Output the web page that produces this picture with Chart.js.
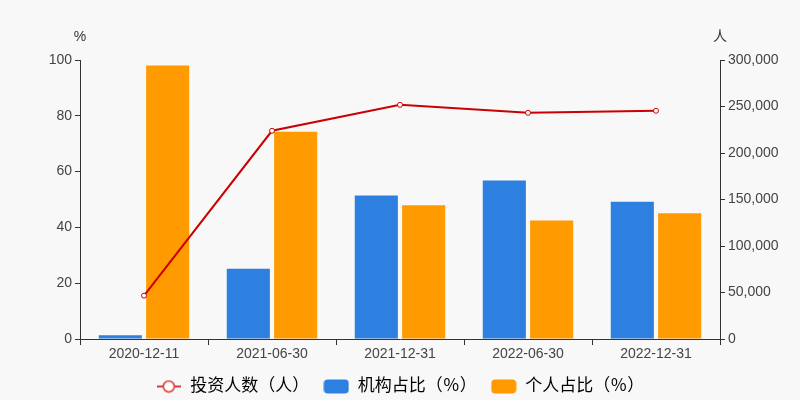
<!DOCTYPE html>
<html>
<head>
<meta charset="utf-8">
<script src="https://cdn.jsdelivr.net/npm/chart.js@4"></script>
<style>
  html, body { margin: 0; padding: 0; background: #f8f8f8; }
  #wrap { width: 800px; height: 400px; }
</style>
</head>
<body>
<div id="wrap"><canvas id="chart"></canvas></div>
<script>
const dates = ["2020-12-11", "2021-06-30", "2021-12-31", "2022-06-30", "2022-12-31"];
const investors = [46600, 223900, 251800, 243200, 245400];
const instShare = [1.3, 25.2, 51.4, 56.8, 49.2];
const personShare = [98.0, 74.3, 47.9, 42.5, 45.1];

const FONT = "Arial, 'Liberation Sans', 'Noto Sans CJK SC', sans-serif";
const RED = "#cc0000";
const BLUE = "#2e80e0";
const ORANGE = "#ff9a00";

// little legend icons
function lineIcon() {
  const c = document.createElement("canvas");
  c.width = 24; c.height = 14;
  const g = c.getContext("2d");
  g.strokeStyle = "#d83a3a";
  g.lineWidth = 2;
  g.beginPath(); g.moveTo(0, 7); g.lineTo(24, 7); g.stroke();
  g.fillStyle = "#fff";
  g.lineWidth = 1.5;
  g.beginPath(); g.arc(12, 7, 5.5, 0, Math.PI * 2); g.fill(); g.stroke();
  return c;
}
function boxIcon(color) {
  const c = document.createElement("canvas");
  c.width = 26; c.height = 15;
  const g = c.getContext("2d");
  g.fillStyle = color;
  g.beginPath(); g.roundRect(0.5, 0.5, 25, 14, 4); g.fill();
  return c;
}

// "%" and "人" above the two y axes
const axisTitles = {
  id: "axisTitles",
  afterDraw(chart) {
    const ctx = chart.ctx;
    const l = chart.scales.y, r = chart.scales.y1;
    ctx.save();
    ctx.fillStyle = "#333";
    ctx.font = "14px " + FONT;
    ctx.textAlign = "center";
    ctx.textBaseline = "middle";
    ctx.fillText("%", l.right, 37);
    ctx.fillText("人", r.left, 37);
    ctx.restore();
  }
};

// keep the legend box a fixed height so the item gap can stay wide
const legendHeight = {
  id: "legendHeight",
  afterInit(chart) {
    const lg = chart.legend;
    const fit = lg.fit;
    lg.fit = function () { fit.call(this); this.height = 36; };
  }
};

const tickFont = { size: 14, family: FONT };

new Chart(document.getElementById("chart"), {
  data: {
    labels: dates,
    datasets: [
      {
        type: "line",
        label: "投资人数（人）",
        data: investors,
        yAxisID: "y1",
        borderColor: RED,
        borderWidth: 2,
        pointRadius: 2.5,
        pointBackgroundColor: "#fff",
        pointBorderColor: RED,
        pointBorderWidth: 1,
        pointStyle: "circle",
        tension: 0,
        order: 0
      },
      {
        type: "bar",
        label: "机构占比（％）",
        data: instShare,
        yAxisID: "y",
        backgroundColor: BLUE,
        categoryPercentage: 0.74,
        barPercentage: 0.91,
        order: 1
      },
      {
        type: "bar",
        label: "个人占比（％）",
        data: personShare,
        yAxisID: "y",
        backgroundColor: ORANGE,
        categoryPercentage: 0.74,
        barPercentage: 0.91,
        order: 1
      }
    ]
  },
  options: {
    responsive: true,
    maintainAspectRatio: false,
    animation: false,
    layout: { padding: { top: 60, bottom: 0 } },
    plugins: {
      tooltip: { enabled: false },
      legend: {
        position: "bottom",
        labels: {
          usePointStyle: true,
          pointStyleWidth: 26,
          color: "#333",
          font: { size: 17, family: FONT },
          padding: 14,
          generateLabels(chart) {
            const icons = [lineIcon(), boxIcon(BLUE), boxIcon(ORANGE)];
            return chart.data.datasets.map((ds, i) => ({
              text: ds.label,
              pointStyle: icons[i],
              fillStyle: "transparent",
              strokeStyle: "transparent",
              lineWidth: 0,
              hidden: false,
              datasetIndex: i
            }));
          }
        }
      }
    },
    scales: {
      x: {
        grid: { display: true, drawOnChartArea: false, drawTicks: true, tickLength: 6, color: "#333" },
        border: { color: "#333" },
        ticks: { color: "#444", font: tickFont, padding: 1 },
        afterFit(s) { s.height = 25; }
      },
      y: {
        position: "left",
        min: 0, max: 100,
        grid: { display: true, drawOnChartArea: false, drawTicks: true, tickLength: 5, color: "#333" },
        border: { color: "#333" },
        ticks: { stepSize: 20, color: "#444", font: tickFont, padding: 3 },
        afterFit(s) { s.width = 80; }
      },
      y1: {
        position: "right",
        min: 0, max: 300000,
        grid: { display: true, drawOnChartArea: false, drawTicks: true, tickLength: 5, color: "#333" },
        border: { color: "#333" },
        ticks: {
          stepSize: 50000, color: "#444", font: tickFont, padding: 3,
          callback: v => v.toLocaleString("en-US")
        },
        afterFit(s) { s.width = 80; }
      }
    }
  },
  plugins: [axisTitles, legendHeight]
});
</script>
</body>
</html>
